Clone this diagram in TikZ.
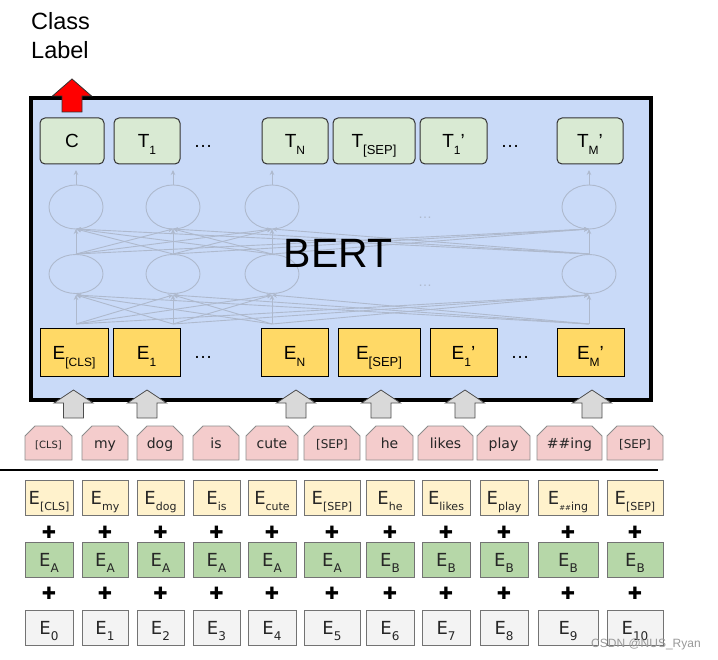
\documentclass[tikz,border=0pt]{standalone}
\usepackage{fontspec}
\setmainfont{Liberation Sans}
\newfontfamily\dvs{DejaVu Sans}
\usetikzlibrary{shapes.misc,arrows.meta}
\definecolor{bertbg}{HTML}{C9DAF8}
\definecolor{netc}{HTML}{AEB9CD}
\definecolor{tgreen}{HTML}{D9EAD3}
\definecolor{eyellow}{HTML}{FFD966}
\definecolor{tokpink}{HTML}{F4CCCC}
\definecolor{lyellow}{HTML}{FFF2CC}
\definecolor{sgreen}{HTML}{B6D7A8}
\definecolor{pgray}{HTML}{F3F3F3}
\definecolor{agray}{HTML}{D9D9D9}
\newcommand\lsub[2][12]{\raisebox{-7pt}{\fontsize{#1}{#1}\selectfont #2}}
\newcommand\dsub[2][11]{\raisebox{-6pt}{\fontsize{#1}{#1}\selectfont #2}}
\newcommand\fs[1]{\fontsize{#1}{#1}\selectfont}
\newcommand\uparr[5]{\filldraw[#1] (#2,#3) -- ++(19.5,#4) -- ++(-9.5,0) -- ++(0,#5) -- ++(-20,0) -- ++(0,-#5) -- ++(-9.5,0) -- cycle;}
\begin{document}
\begin{tikzpicture}[x=1pt,y=-1pt,
  tbox/.style={draw=black!80, fill=tgreen, line width=1pt, rounded corners=5pt, minimum height=46pt, inner sep=0pt, font=\fs{19}, text height=13.6pt, text depth=0pt},
  ebox/.style={draw=black, fill=eyellow, line width=1pt, minimum height=48pt, inner sep=0pt, font=\fs{19}, text height=13.6pt, text depth=0pt},
  tok/.style={draw=black!45, fill=tokpink, line width=0.8pt, chamfered rectangle, chamfered rectangle corners={north west,north east}, chamfered rectangle xsep=5pt, chamfered rectangle ysep=5pt, minimum height=34pt, inner sep=0pt, font=\dvs\fs{14}, text=black!85, text height=11pt, text depth=0pt},
  row/.style={draw=black!55, line width=0.8pt, minimum height=35pt, inner sep=0pt, font=\dvs\fs{18}, text=black!85, text height=13.1pt, text depth=0pt},
  plus/.style={inner sep=0pt, font=\dvs\fs{17}},
  dots/.style={inner sep=0pt, font=\fs{19}},
  net/.style={draw=netc, line width=0.9pt},
  neta/.style={net, -{Stealth[length=5pt,width=4.5pt]}}
]
\useasboundingbox (0,0) rectangle (718,660);
\fill[white] (0,0) rectangle (718,660);

% class label
\node[anchor=north west, align=left, inner sep=0pt, font=\fs{23.5}] (cls) at (31,12) {Class\\[6pt]Label};

% BERT box
\fill[bertbg] (31,98) rectangle (651,400);

% faded network
\foreach \i/\x in {1/76,2/173,3/272,4/589}{
  \coordinate (lb\i) at (\x,324);
  \coordinate (lt\i) at (\x,295);
  \coordinate (ub\i) at (\x,254);
  \coordinate (ut\i) at (\x,229);
  \coordinate (vb\i) at (\x,185);
  \coordinate (vt\i) at (\x,170);
  \draw[net] (\x,207) ellipse [x radius=27, y radius=22];
  \draw[net] (\x,274) ellipse [x radius=27, y radius=19.5];
}
\foreach \i in {1,...,4}{
  \foreach \j in {1,...,4}{
    \draw[neta] (lb\i) -- (lt\j);
    \draw[neta] (ub\i) -- (ut\j);
  }
  \draw[neta] (vb\i) -- (vt\i);
}
\node[dots, text=netc, font=\fs{14}] (nd1) at (425,218) {\dots};
\node[dots, text=netc, font=\fs{14}] (nd2) at (425,286) {\dots};

\node[font=\fs{41}, inner sep=0pt] (bert) at (338,253) {BERT};

\draw[line width=4pt] (31,98) rectangle (651,400);

% top output boxes
\node[tbox, minimum width=64pt] (c) at (72,141) {C};
\node[tbox, minimum width=66pt] (t1) at (147,141) {T\lsub{1}};
\node[dots] (td1) at (203,146) {\dots};
\node[tbox, minimum width=66pt] (tn) at (295,141) {T\lsub{N}};
\node[tbox, minimum width=82pt] (tsep) at (374,141) {T\lsub[13]{[SEP]}};
\node[tbox, minimum width=67pt] (t1p) at (453.5,141) {T\lsub{1}’};
\node[dots] (td2) at (510,146) {\dots};
\node[tbox, minimum width=66pt] (tmp) at (590,141) {T\lsub{M}’};

% input embedding boxes
\node[ebox, minimum width=68pt] (ecls) at (74,353) {E\lsub{[CLS]}};
\node[ebox, minimum width=67pt] (e1) at (146.5,353) {E\lsub{1}};
\node[dots] (ed1) at (203,357) {\dots};
\node[ebox, minimum width=67pt] (en) at (294.5,353) {E\lsub{N}};
\node[ebox, minimum width=82pt] (esep) at (379,353) {E\lsub[13]{[SEP]}};
\node[ebox, minimum width=67pt] (e1p) at (463.5,353) {E\lsub{1}’};
\node[dots] (ed2) at (520,357) {\dots};
\node[ebox, minimum width=67pt] (emp) at (590.5,353) {E\lsub{M}’};

% block arrows
\foreach \x in {73.5,147,296,381,465,592}{
  \uparr{fill=agray, draw=black!70, line width=0.8pt}{\x}{390}{13}{15}
}
\uparr{fill=red, draw=black!80, line width=0.8pt}{72}{79}{17}{16}

% tokens
\foreach \i/\cx/\w/\txt in {
  1/48.5/47/{\fs{10}[CLS]}, 2/105/46/{my}, 3/160/46/{dog}, 4/216/46/{is},
  5/272/52/{cute}, 6/332/56/{\fs{12}[SEP]}, 7/389.5/47/{he}, 8/445.5/55/{likes},
  9/503.5/53/{play}, 10/569.5/65/{\#\#ing}, 11/635/56/{\fs{12}[SEP]}}{
  \node[tok, minimum width=\w pt] (tok\i) at (\cx,443) {\txt};
}

\coordinate (hl) at (0,470);
\coordinate (hr) at (658,470);
\draw[line width=2.5pt] (hl) -- (hr);

% embedding rows
\foreach \i/\cx/\w/\tt/\seg/\pos in {
  1/49/48/{[CLS]}/A/0, 2/105/46/{my}/A/1, 3/160.5/47/{dog}/A/2, 4/216.5/47/{is}/A/3,
  5/272/48/{cute}/A/4, 6/332/56/{[SEP]}/A/5, 7/390/48/{he}/B/6, 8/446/48/{likes}/B/7,
  9/504/48/{play}/B/8, 10/568/60/{{\fs{7}\#\#}ing}/B/9, 11/635/56/{[SEP]}/B/10}{
  \node[row, fill=lyellow, minimum width=\w pt] (tokemb\i) at (\cx,498) {E\dsub{\tt}};
  \node[plus] (pa\i) at (\cx,532) {✚};
  \node[row, fill=sgreen, minimum width=\w pt] (segemb\i) at (\cx,559.5) {E\dsub[12]{\seg}};
  \node[plus] (pb\i) at (\cx,593) {✚};
  \node[row, fill=pgray, minimum width=\w pt] (posemb\i) at (\cx,627.5) {E\dsub[12]{\pos}};
}

\node[text=black!40, font=\fs{12}, inner sep=0pt] (wm) at (646,644) {CSDN @NUS\_Ryan};
\end{tikzpicture}
\end{document}
